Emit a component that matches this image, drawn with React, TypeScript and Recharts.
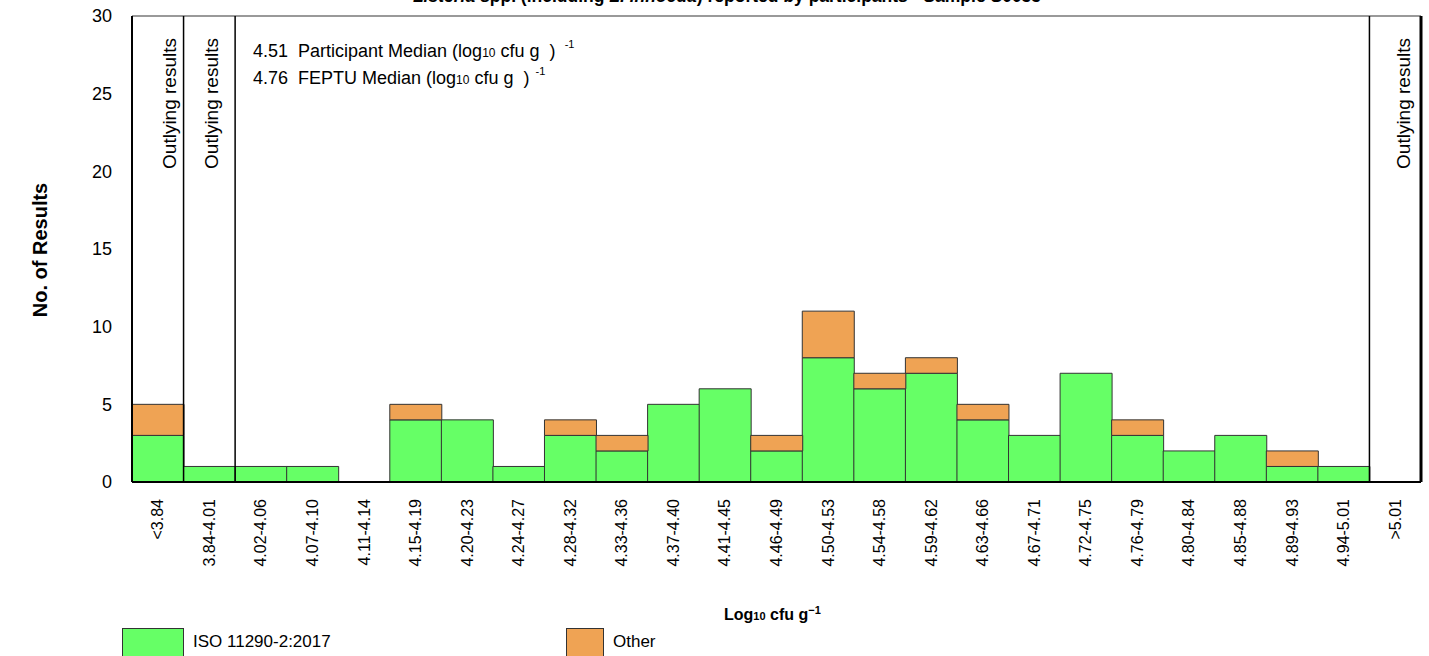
import React from "react";
import { BarChart, Bar, XAxis, YAxis, ReferenceLine } from "recharts";

// log10 cfu/g bins
const categories = [
  "<3.84", "3.84-4.01", "4.02-4.06", "4.07-4.10", "4.11-4.14", "4.15-4.19",
  "4.20-4.23", "4.24-4.27", "4.28-4.32", "4.33-4.36", "4.37-4.40", "4.41-4.45",
  "4.46-4.49", "4.50-4.53", "4.54-4.58", "4.59-4.62", "4.63-4.66", "4.67-4.71",
  "4.72-4.75", "4.76-4.79", "4.80-4.84", "4.85-4.88", "4.89-4.93", "4.94-5.01",
  ">5.01",
];
const isoCounts = [3, 1, 1, 1, 0, 4, 4, 1, 3, 2, 5, 6, 2, 8, 6, 7, 4, 3, 7, 3, 2, 3, 1, 1, 0];
const otherCounts = [2, 0, 0, 0, 0, 1, 0, 0, 1, 1, 0, 0, 1, 3, 1, 1, 1, 0, 0, 1, 0, 0, 1, 0, 0];
const yTicks = [0, 5, 10, 15, 20, 25, 30];

// bins flagged as outlying, and where the dividers sit (start of bin)
const outlyingBins = [
  { bin: "<3.84", dx: 12 },
  { bin: "3.84-4.01", dx: 2 },
  { bin: ">5.01", dx: 8 },
];
const dividerBins = ["3.84-4.01", "4.02-4.06", ">5.01"];

const GREEN = "#66FF66";
const ORANGE = "#EFA354";
const FONT = "Arial, 'Liberation Sans', sans-serif";

const data = categories.map((name, i) => ({
  name,
  iso: isoCounts[i],
  other: otherCounts[i],
}));

function XTick(props: any) {
  const { x, y, payload } = props;
  return (
    <text
      transform={`translate(${x},${y + 9}) rotate(-90)`}
      textAnchor="end"
      dominantBaseline="central"
      fontSize={16}
      fontFamily={FONT}
      fill="#000"
    >
      {payload.value}
    </text>
  );
}

function outlyingLabel(dx: number) {
  return (props: any) => {
    const vb = props.viewBox;
    if (!vb) return null;
    const cx = vb.x + dx;
    return (
      <text
        transform={`translate(${cx},${vb.y + 22}) rotate(-90)`}
        textAnchor="end"
        dominantBaseline="central"
        fontSize={19}
        fontFamily={FONT}
        fill="#000"
      >
        Outlying results
      </text>
    );
  };
}

export default function App() {
  const abs = (s: React.CSSProperties): React.CSSProperties => ({
    position: "absolute",
    fontFamily: FONT,
    color: "#000",
    whiteSpace: "pre",
    lineHeight: 1,
    ...s,
  });

  return (
    <div
      style={{
        position: "absolute",
        left: 0,
        top: 0,
        width: 1429,
        height: 656,
        overflow: "hidden",
        background: "#fff",
      }}
    >
      <BarChart
        width={1429}
        height={656}
        data={data}
        margin={{ top: 16, right: 8, left: 0, bottom: 0 }}
        barCategoryGap={0}
      >
        <XAxis
          dataKey="name"
          height={174}
          interval={0}
          tick={XTick}
          tickLine={false}
          axisLine={{ stroke: "#000", strokeWidth: 2 }}
        />
        <YAxis
          width={132}
          domain={[0, 30]}
          ticks={yTicks}
          tickLine={false}
          tickMargin={14}
          axisLine={{ stroke: "#000", strokeWidth: 2 }}
          tick={{ fontSize: 18, fill: "#000", fontFamily: FONT }}
        />
        <Bar dataKey="iso" stackId="a" fill={GREEN} stroke="#333" strokeWidth={1} isAnimationActive={false} />
        <Bar dataKey="other" stackId="a" fill={ORANGE} stroke="#333" strokeWidth={1} isAnimationActive={false} />
        <ReferenceLine y={30} stroke="#777" strokeWidth={1.5} />
        {outlyingBins.map((o) => (
          <ReferenceLine
            key={"lbl" + o.bin}
            x={o.bin}
            position="middle"
            stroke="none"
            label={outlyingLabel(o.dx)}
          />
        ))}
        {dividerBins.map((b) => (
          <ReferenceLine key={b} x={b} position="start" stroke="#000" strokeWidth={1.5} />
        ))}
        <ReferenceLine x=">5.01" position="end" stroke="#000" strokeWidth={3} />
      </BarChart>

      {/* title, clipped at the top edge like the source */}
      <div style={abs({ left: 0, width: 1454, top: -12, textAlign: "center", fontSize: 17.5, fontWeight: "bold" })}>
        <i>Listeria</i> spp. (including <i>L. innocua</i>) reported by participants - Sample S0033
      </div>

      <div style={abs({ left: 253, top: 42, fontSize: 18 })}>
        4.51  Participant Median (log<span style={{ fontSize: 12 }}>10</span> cfu g  )
        <span style={{ fontSize: 11, position: "relative", top: -9 }}>   -1</span>
      </div>
      <div style={abs({ left: 253, top: 69, fontSize: 18 })}>
        4.76  FEPTU Median (log<span style={{ fontSize: 12 }}>10</span> cfu g  )
        <span style={{ fontSize: 11, position: "relative", top: -9 }}>  -1</span>
      </div>

      <div
        style={abs({
          left: 40,
          top: 250,
          fontSize: 20,
          fontWeight: "bold",
          transform: "translate(-50%, -50%) rotate(-90deg)",
        })}
      >
        No. of Results
      </div>

      <div style={abs({ left: 724, top: 607, fontSize: 16, fontWeight: "bold" })}>
        Log<span style={{ fontSize: 11 }}>10</span> cfu g<span style={{ fontSize: 11, position: "relative", top: -6 }}>−1</span>
      </div>

      <div style={abs({ left: 122, top: 628, width: 60, height: 40, background: GREEN, border: "1px solid #333" })} />
      <div style={abs({ left: 193, top: 633, fontSize: 17 })}>ISO 11290-2:2017</div>
      <div style={abs({ left: 566, top: 628, width: 36, height: 40, background: ORANGE, border: "1px solid #333" })} />
      <div style={abs({ left: 613, top: 633, fontSize: 17 })}>Other</div>
    </div>
  );
}
